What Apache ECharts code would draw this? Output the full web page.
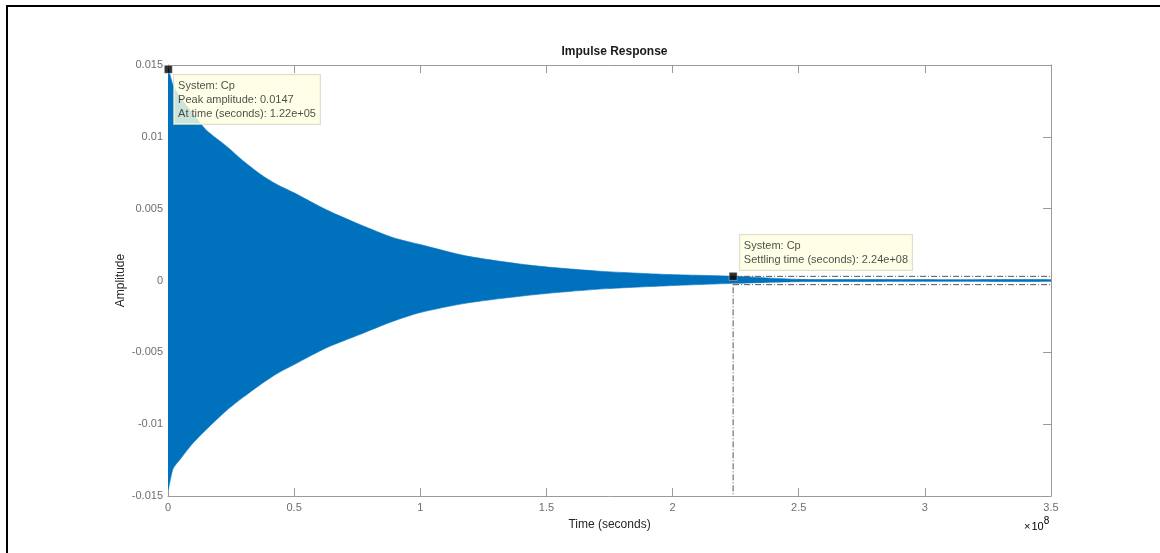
<!DOCTYPE html>
<html>
<head>
<meta charset="utf-8">
<title>Impulse Response</title>
<script src="https://cdn.jsdelivr.net/npm/echarts@6/dist/echarts.min.js"></script>
<style>
  html, body { margin: 0; padding: 0; background: #fff; }
  #chart { width: 1160px; height: 553px; }
</style>
</head>
<body>
<div id="chart"></div>
<script>
// Envelope of the impulse response of system Cp (time in units of 1e8 s)
const timeE8 = [0, 0.02, 0.05, 0.1, 0.15, 0.235, 0.3, 0.366, 0.43, 0.5, 0.63, 0.76, 0.89, 1.0, 1.185, 1.446, 1.71, 1.98, 2.24, 2.5, 2.8, 3.1, 3.5];
const upperEnv = [0.0147, 0.0136, 0.0127, 0.0116, 0.0105, 0.0093, 0.0083, 0.0074, 0.0067, 0.0061, 0.0049, 0.0039, 0.0030, 0.0025, 0.0017, 0.00104, 0.00065, 0.00042, 0.0003, 0.00008, 0.00007, 0.00006, 0.00006];
const lowerEnv = [-0.0145, -0.0131, -0.0124, -0.0113, -0.0104, -0.0090, -0.0081, -0.00725, -0.0065, -0.00585, -0.00467, -0.00376, -0.00285, -0.00223, -0.00157, -0.0010, -0.0006, -0.00037, -0.0002, -0.00008, -0.00007, -0.00006, -0.00006];

// Characteristics
const peakTime = 1.22e5;
const peakAmp = 0.0147;
const settleTime = 2.24e8;
const settleBand = 0.00029;

// Axis ticks
const xTicksE8 = [0, 0.5, 1, 1.5, 2, 2.5, 3, 3.5];
const yTicks = [-0.015, -0.01, -0.005, 0, 0.005, 0.01, 0.015];

const peakTipLines = ['System: Cp', 'Peak amplitude: 0.0147', 'At time (seconds): 1.22e+05'];
const settleTipLines = ['System: Cp', 'Settling time (seconds): 2.24e+08'];

const FONT = '"Liberation Sans", Arial, sans-serif';
const AXIS_GREY = '#9a9a9a';
const LABEL_GREY = '#6e6e6e';
const BLUE = '#0072BD';

// One row per envelope sample: [time, upper, lower]
const bandData = timeE8.map((t, i) => [t * 1e8, upperEnv[i], lowerEnv[i]]);

const xMin = xTicksE8[0] * 1e8, xMax = xTicksE8[xTicksE8.length - 1] * 1e8;
const xStep = (xTicksE8[1] - xTicksE8[0]) * 1e8;
const yMin = yTicks[0], yMax = yTicks[yTicks.length - 1];
const yStep = yTicks[1] - yTicks[0];

function fmtNum(v) {
  if (Math.abs(v) < 1e-12) return '0';
  return String(parseFloat(v.toPrecision(6)));
}

const baseX = {
  type: 'value', min: xMin, max: xMax, interval: xStep,
  axisLine: { show: true, onZero: false, lineStyle: { color: AXIS_GREY, width: 1 } },
  axisTick: { show: true, inside: true, length: 8, lineStyle: { color: AXIS_GREY } },
  splitLine: { show: false }
};
const baseY = {
  type: 'value', min: yMin, max: yMax, interval: yStep,
  axisLine: { show: true, onZero: false, lineStyle: { color: AXIS_GREY, width: 1 } },
  axisTick: { show: true, inside: true, length: 8, lineStyle: { color: AXIS_GREY } },
  splitLine: { show: false }
};

const tipLabel = {
  show: true,
  align: 'left',
  verticalAlign: 'top',
  backgroundColor: '#FFFFE1',
  borderColor: '#D6D6C2',
  borderWidth: 1,
  padding: [4, 4, 3, 4],
  lineHeight: 14,
  fontSize: 11,
  fontFamily: FONT,
  color: '#1e1e1e'
};

// Filled band between the upper and lower envelopes
function renderBand(params, api) {
  if (params.dataIndex !== 0) return null;
  const top = [], bottom = [];
  for (let i = 0; i < bandData.length; i++) {
    top.push(api.coord([bandData[i][0], bandData[i][1]]));
    bottom.push(api.coord([bandData[i][0], bandData[i][2]]));
  }
  const pts = top.concat(bottom.reverse());
  return {
    type: 'polygon',
    shape: { points: pts, smooth: 0.25 },
    style: { fill: BLUE, stroke: BLUE, lineWidth: 0.6 }
  };
}

const chart = echarts.init(document.getElementById('chart'), null, { renderer: 'canvas' });

chart.setOption({
  animation: false,
  backgroundColor: '#ffffff',
  title: {
    text: 'Impulse Response',
    left: 609.5, top: 41, textAlign: 'center',
    textStyle: { fontFamily: FONT, fontSize: 12, fontWeight: 'bold', color: '#1a1a1a' }
  },
  grid: { left: 168, right: 109, top: 65, bottom: 57, containLabel: false },
  xAxis: [
    Object.assign({}, baseX, {
      position: 'bottom',
      name: 'Time (seconds)', nameLocation: 'middle', nameGap: 23, nameMoveOverlap: false,
      nameTextStyle: { fontFamily: FONT, fontSize: 12, color: '#262626' },
      axisLabel: { show: true, margin: 6, fontFamily: FONT, fontSize: 11, color: LABEL_GREY,
        formatter: v => fmtNum(v / 1e8) }
    }),
    Object.assign({}, baseX, { position: 'top', axisLabel: { show: false } })
  ],
  yAxis: [
    Object.assign({}, baseY, {
      position: 'left',
      name: 'Amplitude', nameLocation: 'middle', nameGap: 41, nameMoveOverlap: false,
      nameTextStyle: { fontFamily: FONT, fontSize: 12, color: '#262626' },
      axisLabel: { show: true, margin: 5, fontFamily: FONT, fontSize: 11, color: LABEL_GREY,
        formatter: v => fmtNum(v) }
    }),
    Object.assign({}, baseY, { position: 'right', axisLabel: { show: false } })
  ],
  series: [
    {
      name: 'response', type: 'custom', silent: true,
      renderItem: renderBand,
      data: bandData,
      encode: { x: 0, y: [1, 2] },
      clip: true,
      z: 2
    },
    {
      name: 'settle-vertical', type: 'line', silent: true, showSymbol: false,
      data: [[settleTime, settleBand], [settleTime, yMin]],
      lineStyle: { color: '#555', width: 1, type: [6, 2, 1, 2] }, z: 3
    },
    {
      name: 'settle-upper', type: 'line', silent: true, showSymbol: false,
      data: [[settleTime, settleBand], [xMax, settleBand]],
      lineStyle: { color: '#555', width: 1, type: [6, 2, 1, 2] }, z: 3
    },
    {
      name: 'settle-lower', type: 'line', silent: true, showSymbol: false,
      data: [[settleTime, -settleBand], [xMax, -settleBand]],
      lineStyle: { color: '#555', width: 1, type: [6, 2, 1, 2] }, z: 3
    },
    {
      name: 'peak', type: 'scatter', silent: true,
      data: [[peakTime, peakAmp]],
      symbol: 'rect', symbolSize: 8,
      itemStyle: { color: '#000', borderColor: '#fff', borderWidth: 0.5 },
      label: Object.assign({}, tipLabel, { position: [10, 10], formatter: peakTipLines.join('\n') }),
      z: 10
    },
    {
      name: 'settling', type: 'scatter', silent: true,
      data: [[settleTime, settleBand]],
      symbol: 'rect', symbolSize: 8,
      itemStyle: { color: '#000', borderColor: '#fff', borderWidth: 0.5 },
      label: Object.assign({}, tipLabel, { position: [11, -37], formatter: settleTipLines.join('\n') }),
      z: 10
    }
  ],
  graphic: [
    {
      type: 'rect', silent: true, z: 100,
      shape: { x: 7, y: 6, width: 1170, height: 570 },
      style: { fill: null, stroke: '#000', lineWidth: 2 }
    },
    {
      type: 'text', silent: true, z: 100,
      left: 1024, top: 516,
      style: {
        text: '{x|×}{b|10}{s|8}',
        rich: {
          x: { fontFamily: FONT, fontSize: 11, color: LABEL_GREY, padding: [8, 1, 0, 0] },
          b: { fontFamily: FONT, fontSize: 11, color: LABEL_GREY, padding: [8, 0, 0, 0] },
          s: { fontFamily: FONT, fontSize: 10, color: LABEL_GREY, padding: [0, 0, 4, 0] }
        }
      }
    }
  ]
});
</script>
</body>
</html>
